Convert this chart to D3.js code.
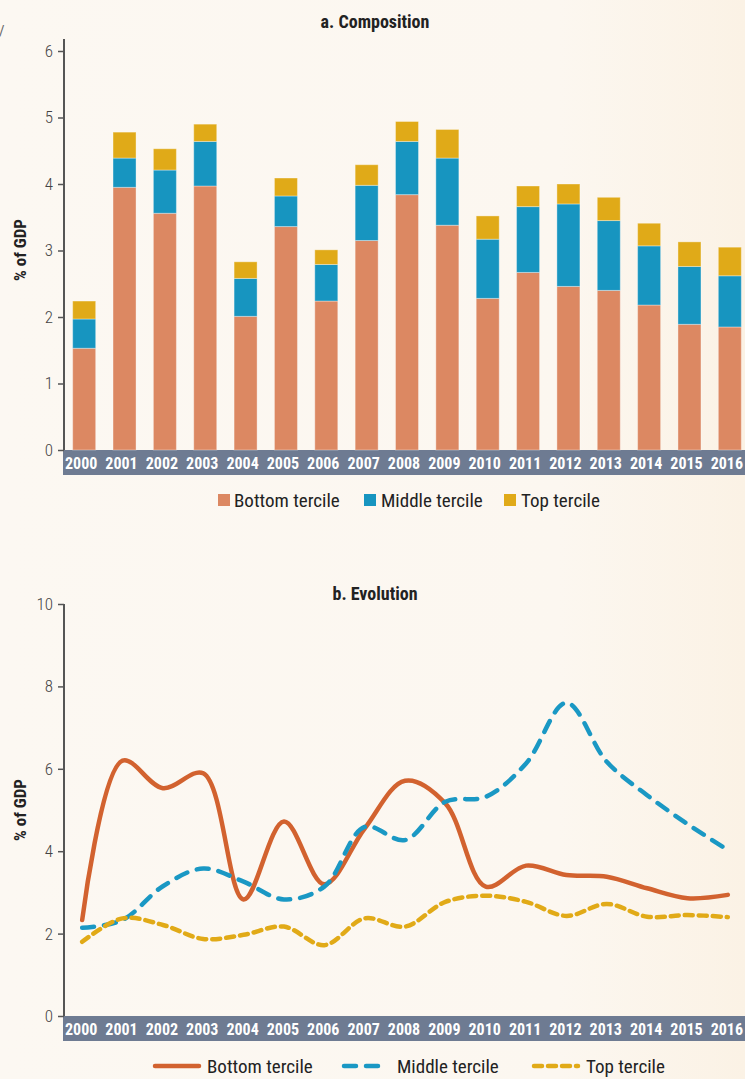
<!DOCTYPE html>
<html>
<head>
<meta charset="utf-8">
<script src="https://cdn.jsdelivr.net/npm/d3@7"></script>
<style>
  html, body { margin: 0; padding: 0; }
  body { width: 745px; height: 1079px; overflow: hidden; }
  svg text { font-family: "Liberation Sans Narrow", "Roboto Condensed", "DejaVu Sans Condensed", "Arial Narrow", sans-serif; }
  .tick text { fill: #444; font-size: 17px; font-weight: 300; }
  .tick line { stroke: #555; stroke-width: 1.5; }
  .xlab { fill: #fff; font-weight: bold; font-size: 16px; }
</style>
</head>
<body>
<svg id="chart"></svg>
<script>
// data
let years = ["2000","2001","2002","2003","2004","2005","2006","2007","2008","2009","2010","2011","2012","2013","2014","2015","2016"];
let seriesNames = ["Bottom tercile", "Middle tercile", "Top tercile"];

// a. Composition (stacked, % of GDP)
let barBottom = [1.53,3.95,3.56,3.97,2.01,3.36,2.24,3.15,3.84,3.38,2.28,2.67,2.46,2.40,2.18,1.89,1.85];
let barMiddle = [0.44,0.44,0.65,0.67,0.57,0.46,0.55,0.83,0.80,1.01,0.89,0.99,1.24,1.05,0.89,0.87,0.77];
let barTop    = [0.27,0.39,0.32,0.26,0.25,0.27,0.22,0.31,0.30,0.43,0.35,0.31,0.30,0.35,0.34,0.37,0.43];

// b. Evolution
let lineBottom = [2.33,6.20,5.53,5.89,2.83,4.72,3.20,4.55,5.71,5.16,3.14,3.65,3.42,3.38,3.10,2.86,2.94];
let lineMiddle = [2.14,2.33,3.15,3.58,3.26,2.83,3.14,4.59,4.27,5.20,5.32,6.13,7.60,6.17,5.36,4.66,4.03];
let lineTop    = [1.80,2.37,2.21,1.87,1.97,2.17,1.72,2.37,2.17,2.77,2.92,2.77,2.43,2.72,2.41,2.45,2.40];

let topTicks = [0,1,2,3,4,5,6];
let bottomTicks = [0,2,4,6,8,10];

let barColors = ["#dc8862", "#1795c0", "#e0aa18"];
let lineColors = ["#d2622f", "#1a98c4", "#e1aa17"];

let width = 745, height = 1079, left = 64;
let svg = d3.select("#chart").attr("width", width).attr("height", height);

// background
let grad = svg.append("defs").append("linearGradient").attr("id", "bg").attr("x1", 0).attr("x2", 1).attr("y1", 0).attr("y2", 0);
grad.append("stop").attr("offset", "0%").attr("stop-color", "#fcf8f2");
grad.append("stop").attr("offset", "75%").attr("stop-color", "#fcf7f0");
grad.append("stop").attr("offset", "100%").attr("stop-color", "#fbf2e5");
svg.append("rect").attr("width", width).attr("height", height).attr("fill", "url(#bg)");

svg.append("text").attr("x", -1).attr("y", 36).attr("fill", "#666").attr("font-size", 15).text("/");

let x = d3.scaleBand().domain(years).range([left, 750]).paddingInner(0.43).paddingOuter(0.215);

function drawFrame(y, ticks, axisTop, title, titleY, labelY) {
  let y0 = y.range()[0];
  svg.append("rect").attr("x", left - 1).attr("y", y0).attr("width", width - left + 1).attr("height", 25).attr("fill", "#6e7b92");
  svg.append("g").selectAll("text").data(years).enter().append("text")
      .attr("class", "xlab")
      .attr("x", d => x(d) + x.bandwidth() / 2 - 3)
      .attr("y", y0 + 19)
      .attr("text-anchor", "middle")
      .text(d => d);
  let g = svg.append("g").attr("transform", "translate(" + left + ",0)")
      .call(d3.axisLeft(y).tickValues(ticks).tickFormat(d3.format("d")).tickSize(6).tickPadding(5));
  g.select(".domain").remove();
  svg.append("line").attr("x1", left).attr("x2", left).attr("y1", axisTop).attr("y2", y0)
      .attr("stroke", "#555").attr("stroke-width", 2);
  svg.append("text").attr("x", 375).attr("y", titleY).attr("text-anchor", "middle")
      .attr("font-weight", "bold").attr("font-size", 18).attr("fill", "#222").text(title);
  svg.append("text").attr("transform", "translate(26," + labelY + ") rotate(-90)")
      .attr("text-anchor", "middle").attr("font-weight", "bold").attr("font-size", 17).attr("fill", "#222").text("% of GDP");
}

// a. Composition
let yA = d3.scaleLinear().domain([0, 6]).range([450, 51]);
let stackData = years.map((yr, i) => ({year: yr, b: barBottom[i], m: barMiddle[i], t: barTop[i]}));
let stack = d3.stack().keys(["b", "m", "t"])(stackData);

drawFrame(yA, topTicks, 39, "a. Composition", 28, 250);

svg.append("g").selectAll("g").data(stack).enter().append("g")
    .attr("fill", (d, i) => barColors[i])
    .selectAll("rect").data(d => d).enter().append("rect")
    .attr("x", d => x(d.data.year))
    .attr("y", d => yA(d[1]))
    .attr("height", d => yA(d[0]) - yA(d[1]))
    .attr("width", x.bandwidth())
    .attr("stroke", "#fff").attr("stroke-opacity", 0.35).attr("stroke-width", 1);

let legA = [[218, 234], [364, 381], [504, 521]];
seriesNames.forEach((name, i) => {
  svg.append("rect").attr("x", legA[i][0]).attr("y", 494).attr("width", 12).attr("height", 12).attr("fill", barColors[i]);
  svg.append("text").attr("x", legA[i][1]).attr("y", 507).attr("font-size", 19).attr("fill", "#222").text(name);
});

// b. Evolution
let yB = d3.scaleLinear().domain([0, 10]).range([1016, 604]);
drawFrame(yB, bottomTicks, 604, "b. Evolution", 600, 810);

let line = d3.line()
    .x((d, i) => x(years[i]) + x.bandwidth() / 2 - 2)
    .y(d => yB(d))
    .curve(d3.curveCatmullRom.alpha(0.5));

let dashes = [null, "12,10", "8,6"];
[lineBottom, lineMiddle, lineTop].forEach((vals, i) => {
  svg.append("path").datum(vals)
      .attr("d", line)
      .attr("fill", "none")
      .attr("stroke", lineColors[i])
      .attr("stroke-width", 4.5)
      .attr("stroke-linecap", "round")
      .attr("stroke-dasharray", dashes[i]);
});

let legB = [[155, 199, 207], [344, 388, 397], [534, 578, 586]];
seriesNames.forEach((name, i) => {
  svg.append("line").attr("x1", legB[i][0]).attr("x2", legB[i][1]).attr("y1", 1066).attr("y2", 1066)
      .attr("stroke", lineColors[i]).attr("stroke-width", 4.5).attr("stroke-linecap", "round")
      .attr("stroke-dasharray", dashes[i]);
  svg.append("text").attr("x", legB[i][2]).attr("y", 1073).attr("font-size", 19).attr("fill", "#222").text(name);
});
</script>
</body>
</html>
